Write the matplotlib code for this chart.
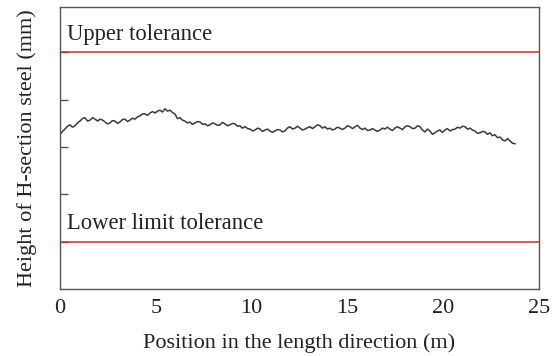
import matplotlib
matplotlib.use("Agg")
import matplotlib.pyplot as plt

position_m = [
    0.00, 0.13, 0.26, 0.39, 0.52, 0.65, 0.78, 0.91, 1.04, 1.17,
    1.30, 1.44, 1.57, 1.70, 1.83, 1.96, 2.09, 2.22, 2.35, 2.48,
    2.61, 2.74, 2.87, 3.00, 3.13, 3.26, 3.39, 3.52, 3.65, 3.78,
    3.91, 4.05, 4.18, 4.31, 4.44, 4.57, 4.70, 4.83, 4.96, 5.09,
    5.22, 5.35, 5.48, 5.61, 5.74, 5.87, 6.00, 6.13, 6.26, 6.39,
    6.52, 6.65, 6.78, 6.91, 7.05, 7.18, 7.31, 7.44, 7.57, 7.70,
    7.83, 7.96, 8.09, 8.22, 8.35, 8.48, 8.61, 8.74, 8.87, 9.00,
    9.13, 9.26, 9.39, 9.52, 9.66, 9.79, 9.92, 10.05, 10.18, 10.31,
    10.44, 10.57, 10.70, 10.83, 10.96, 11.09, 11.22, 11.35, 11.48, 11.61,
    11.74, 11.87, 12.00, 12.14, 12.27, 12.40, 12.53, 12.66, 12.79, 12.92,
    13.05, 13.18, 13.31, 13.44, 13.57, 13.70, 13.83, 13.96, 14.09, 14.22,
    14.35, 14.48, 14.61, 14.74, 14.87, 15.00, 15.14, 15.27, 15.40, 15.53,
    15.66, 15.79, 15.92, 16.05, 16.18, 16.31, 16.44, 16.57, 16.70, 16.83,
    16.96, 17.09, 17.22, 17.35, 17.48, 17.61, 17.75, 17.88, 18.01, 18.14,
    18.27, 18.40, 18.53, 18.66, 18.79, 18.92, 19.05, 19.18, 19.31, 19.44,
    19.57, 19.70, 19.83, 19.96, 20.09, 20.22, 20.36, 20.49, 20.62, 20.75,
    20.88, 21.01, 21.14, 21.27, 21.40, 21.53, 21.66, 21.79, 21.92, 22.05,
    22.18, 22.31, 22.44, 22.57, 22.70, 22.83, 22.97, 23.10, 23.23, 23.36,
    23.49, 23.62, 23.75]
height = [
    3.26, 3.33, 3.38, 3.44, 3.47, 3.42, 3.45, 3.51, 3.55, 3.60,
    3.62, 3.55, 3.57, 3.62, 3.59, 3.55, 3.59, 3.57, 3.53, 3.49,
    3.51, 3.56, 3.55, 3.50, 3.53, 3.58, 3.59, 3.54, 3.57, 3.61,
    3.59, 3.64, 3.66, 3.70, 3.70, 3.67, 3.72, 3.75, 3.72, 3.76,
    3.78, 3.74, 3.81, 3.76, 3.78, 3.73, 3.70, 3.60, 3.62, 3.57,
    3.55, 3.51, 3.53, 3.48, 3.51, 3.54, 3.53, 3.48, 3.49, 3.45,
    3.47, 3.51, 3.49, 3.46, 3.47, 3.52, 3.49, 3.45, 3.47, 3.50,
    3.49, 3.44, 3.45, 3.40, 3.43, 3.39, 3.38, 3.34, 3.36, 3.40,
    3.38, 3.33, 3.36, 3.38, 3.34, 3.31, 3.34, 3.37, 3.36, 3.32,
    3.34, 3.40, 3.43, 3.38, 3.40, 3.44, 3.40, 3.36, 3.38, 3.41,
    3.43, 3.39, 3.43, 3.47, 3.45, 3.40, 3.43, 3.38, 3.40, 3.36,
    3.38, 3.42, 3.40, 3.37, 3.40, 3.45, 3.43, 3.39, 3.43, 3.46,
    3.40, 3.37, 3.40, 3.35, 3.36, 3.39, 3.36, 3.33, 3.36, 3.40,
    3.38, 3.42, 3.38, 3.35, 3.40, 3.43, 3.40, 3.37, 3.43, 3.45,
    3.43, 3.39, 3.40, 3.45, 3.43, 3.36, 3.32, 3.38, 3.34, 3.27,
    3.30, 3.34, 3.36, 3.31, 3.36, 3.39, 3.34, 3.37, 3.38, 3.42,
    3.40, 3.44, 3.43, 3.38, 3.40, 3.36, 3.34, 3.29, 3.30, 3.33,
    3.32, 3.27, 3.30, 3.24, 3.26, 3.20, 3.21, 3.15, 3.13, 3.18,
    3.13, 3.08, 3.07]

upper_tol = 5.0
lower_tol = 1.0
x_ticks = [0, 5, 10, 15, 20, 25]
y_ticks = [1, 2, 3, 4, 5]

plt.rcParams['font.family'] = ['Liberation Serif', 'DejaVu Serif']

fig = plt.figure(figsize=(5.52, 3.56), dpi=100)
ax = fig.add_axes([0.1087, 0.1882, 0.8677, 0.7921])

ax.plot(position_m, height, color='#3a3a3a', lw=1.1)
ax.axhline(upper_tol, color='#c8302a', lw=1.1)
ax.axhline(lower_tol, color='#c8302a', lw=1.1)

ax.text(0.36, 5.26, 'Upper tolerance', fontsize=16.3, color='#222222', va='baseline')
ax.text(0.36, 1.27, 'Lower limit tolerance', fontsize=16.3, color='#222222', va='baseline')

ax.set_xlim(0, 25)
ax.set_ylim(0, 5.96)
ax.set_xticks(x_ticks)
ax.set_yticks(y_ticks)
ax.set_yticklabels([])
ax.tick_params(axis='y', direction='in', length=6, color='#555555', width=1)
ax.tick_params(axis='x', length=0, labelsize=16, pad=7, labelcolor='#222222')

for s in ax.spines.values():
    s.set_color('#555555')
    s.set_linewidth(1.0)

ax.set_xlabel('Position in the length direction (m)', fontsize=16, color='#222222', labelpad=11)
ax.set_ylabel('Height of H-section steel (mm)', fontsize=16, color='#222222', labelpad=13)

fig.savefig('out.png', dpi=100)
